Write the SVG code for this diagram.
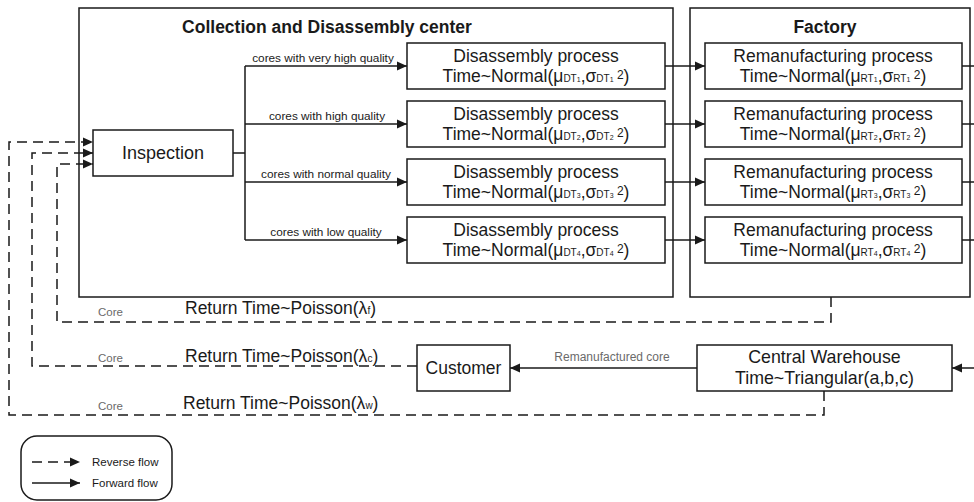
<svg xmlns="http://www.w3.org/2000/svg" width="974" height="502" viewBox="0 0 974 502">
  <defs>
    <marker id="arrow" viewBox="0 0 10 10" refX="10" refY="5" markerWidth="10" markerHeight="10" markerUnits="userSpaceOnUse" orient="auto">
      <path d="M0,0.5 L10,5 L0,9.5 Z" fill="#1a1a1a"/>
    </marker>
    <style>
      .box { fill: #ffffff; stroke: #1a1a1a; stroke-width: 1.5; }
      .line { fill: none; stroke: #1a1a1a; stroke-width: 1.5; }
      .dash { fill: none; stroke: #1a1a1a; stroke-width: 1.5; stroke-dasharray: 10 6; }
      text { font-family: "Liberation Sans", Arial, sans-serif; fill: #1a1a1a; }
      .title { font-size: 17.5px; font-weight: bold; }
      .big { font-size: 17.5px; text-anchor: middle; }
      .lbl { font-size: 11.8px; text-anchor: middle; }
      .grey { font-size: 11.5px; fill: #6a6a6a; }
      .ret { font-size: 17.5px; }
      .sub { font-size: 10px; }
      .subn { font-size: 7px; }
      .sup { font-size: 12px; }
    </style>
  </defs>

  <!-- containers -->
  <g id="collection-center">
    <rect class="box" x="79" y="8" width="594" height="289"/>
    <text class="title" x="327" y="33" text-anchor="middle">Collection and Disassembly center</text>
  </g>
  <g id="factory">
    <rect class="box" x="690" y="8" width="280" height="289"/>
    <text class="title" x="825" y="33" text-anchor="middle">Factory</text>
  </g>

  <!-- inspection -->
  <g id="inspection">
    <rect class="box" x="93" y="130" width="140" height="46"/>
    <text class="big" x="163" y="159" style="font-size:18px">Inspection</text>
  </g>

  <!-- disassembly processes -->
  <g id="disassembly-1">
    <rect class="box" x="407" y="43" width="258" height="46"/>
    <text class="big" x="536" y="62">Disassembly process</text>
    <text class="big" x="536" y="82">Time~Normal(μ<tspan class="sub">DT</tspan><tspan class="subn">1</tspan>,σ<tspan class="sub">DT</tspan><tspan class="subn">1</tspan><tspan class="sup" dy="-3"> 2</tspan><tspan dy="3">)</tspan></text>
  </g>
  <g id="disassembly-2">
    <rect class="box" x="407" y="101" width="258" height="46"/>
    <text class="big" x="536" y="120">Disassembly process</text>
    <text class="big" x="536" y="140">Time~Normal(μ<tspan class="sub">DT</tspan><tspan class="subn">2</tspan>,σ<tspan class="sub">DT</tspan><tspan class="subn">2</tspan><tspan class="sup" dy="-3"> 2</tspan><tspan dy="3">)</tspan></text>
  </g>
  <g id="disassembly-3">
    <rect class="box" x="407" y="159" width="258" height="46"/>
    <text class="big" x="536" y="178">Disassembly process</text>
    <text class="big" x="536" y="198">Time~Normal(μ<tspan class="sub">DT</tspan><tspan class="subn">3</tspan>,σ<tspan class="sub">DT</tspan><tspan class="subn">3</tspan><tspan class="sup" dy="-3"> 2</tspan><tspan dy="3">)</tspan></text>
  </g>
  <g id="disassembly-4">
    <rect class="box" x="407" y="217" width="258" height="46"/>
    <text class="big" x="536" y="236">Disassembly process</text>
    <text class="big" x="536" y="256">Time~Normal(μ<tspan class="sub">DT</tspan><tspan class="subn">4</tspan>,σ<tspan class="sub">DT</tspan><tspan class="subn">4</tspan><tspan class="sup" dy="-3"> 2</tspan><tspan dy="3">)</tspan></text>
  </g>

  <!-- remanufacturing processes -->
  <g id="remanufacturing-1">
    <rect class="box" x="705" y="43" width="257" height="46"/>
    <text class="big" x="833" y="62">Remanufacturing process</text>
    <text class="big" x="833" y="82">Time~Normal(μ<tspan class="sub">RT</tspan><tspan class="subn">1</tspan>,σ<tspan class="sub">RT</tspan><tspan class="subn">1</tspan><tspan class="sup" dy="-3"> 2</tspan><tspan dy="3">)</tspan></text>
  </g>
  <g id="remanufacturing-2">
    <rect class="box" x="705" y="101" width="257" height="46"/>
    <text class="big" x="833" y="120">Remanufacturing process</text>
    <text class="big" x="833" y="140">Time~Normal(μ<tspan class="sub">RT</tspan><tspan class="subn">2</tspan>,σ<tspan class="sub">RT</tspan><tspan class="subn">2</tspan><tspan class="sup" dy="-3"> 2</tspan><tspan dy="3">)</tspan></text>
  </g>
  <g id="remanufacturing-3">
    <rect class="box" x="705" y="159" width="257" height="46"/>
    <text class="big" x="833" y="178">Remanufacturing process</text>
    <text class="big" x="833" y="198">Time~Normal(μ<tspan class="sub">RT</tspan><tspan class="subn">3</tspan>,σ<tspan class="sub">RT</tspan><tspan class="subn">3</tspan><tspan class="sup" dy="-3"> 2</tspan><tspan dy="3">)</tspan></text>
  </g>
  <g id="remanufacturing-4">
    <rect class="box" x="705" y="217" width="257" height="46"/>
    <text class="big" x="833" y="236">Remanufacturing process</text>
    <text class="big" x="833" y="256">Time~Normal(μ<tspan class="sub">RT</tspan><tspan class="subn">4</tspan>,σ<tspan class="sub">RT</tspan><tspan class="subn">4</tspan><tspan class="sup" dy="-3"> 2</tspan><tspan dy="3">)</tspan></text>
  </g>

  <!-- downstream nodes -->
  <g id="customer">
    <rect class="box" x="417" y="345" width="93" height="46"/>
    <text class="big" x="463.5" y="374">Customer</text>
  </g>
  <g id="central-warehouse">
    <rect class="box" x="697" y="345" width="255" height="46"/>
    <text class="big" x="824.5" y="363" style="font-size:17.8px">Central Warehouse</text>
    <text class="big" x="824.5" y="384" style="font-size:17.8px">Time~Triangular(a,b,c)</text>
  </g>

  <!-- connectors -->
  <g id="connectors">
    <!-- inspection split by quality -->
    <path class="line" d="M233,153 H245 M245,66 V240"/>
    <path class="line" d="M245,66 H407" marker-end="url(#arrow)"/>
    <path class="line" d="M245,124 H407" marker-end="url(#arrow)"/>
    <path class="line" d="M245,182 H407" marker-end="url(#arrow)"/>
    <path class="line" d="M245,240 H407" marker-end="url(#arrow)"/>
    <text class="lbl" x="323" y="62">cores with very high quality</text>
    <text class="lbl" x="327" y="120">cores with high quality</text>
    <text class="lbl" x="326" y="178">cores with normal quality</text>
    <text class="lbl" x="326" y="236">cores with low quality</text>

    <!-- disassembly to remanufacturing -->
    <path class="line" d="M665,66 H705" marker-end="url(#arrow)"/>
    <path class="line" d="M665,124 H705" marker-end="url(#arrow)"/>
    <path class="line" d="M665,182 H705" marker-end="url(#arrow)"/>
    <path class="line" d="M665,240 H705" marker-end="url(#arrow)"/>

    <!-- remanufacturing out to the right -->
    <path class="line" d="M962,66 H974 M962,124 H974 M962,182 H974 M962,240 H974"/>

    <!-- into warehouse, then to customer -->
    <path class="line" d="M974,368 H952" marker-end="url(#arrow)"/>
    <path class="line" d="M697,368 H510" marker-end="url(#arrow)"/>
    <text class="grey" x="612" y="361" text-anchor="middle" style="font-size:12px">Remanufactured core</text>

    <!-- reverse flows of cores -->
    <path class="dash" d="M831,297 V322 H57 V164 H93" marker-end="url(#arrow)"/>
    <path class="dash" d="M417,366 H32 V153 H93" marker-end="url(#arrow)"/>
    <path class="dash" d="M824,391 V415 H9 V142 H93" marker-end="url(#arrow)"/>

    <text class="grey" x="98" y="316">Core</text>
    <text class="ret" x="185" y="314">Return Time~Poisson(λ<tspan class="sub">f</tspan>)</text>
    <text class="grey" x="98" y="362">Core</text>
    <text class="ret" x="185" y="362">Return Time~Poisson(λ<tspan class="sub">c</tspan>)</text>
    <text class="grey" x="98" y="410">Core</text>
    <text class="ret" x="183" y="409">Return Time~Poisson(λ<tspan class="sub">w</tspan>)</text>
  </g>

  <!-- legend -->
  <g id="legend">
    <rect class="box" x="21" y="436" width="151" height="64" rx="16" ry="16"/>
    <path class="dash" d="M32,462 H80" marker-end="url(#arrow)"/>
    <path class="line" d="M32,483 H80" marker-end="url(#arrow)"/>
    <text x="92" y="466" style="font-size:11.5px">Reverse flow</text>
    <text x="92" y="487" style="font-size:11.5px">Forward flow</text>
  </g>
</svg>
